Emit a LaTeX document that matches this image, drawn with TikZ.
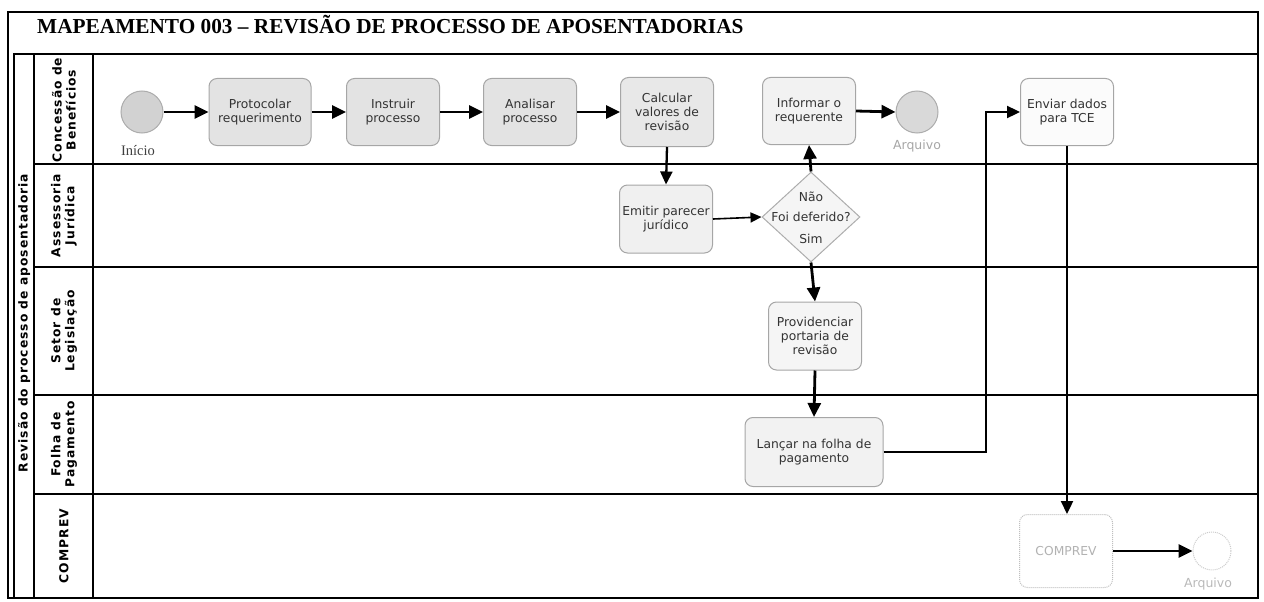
\documentclass[tikz,border=0pt]{standalone}
\usepackage{fontspec}
\setmainfont{Liberation Serif}
\newfontfamily\boxfont{DejaVu Sans}
\newfontfamily\lanefont[LetterSpace=8]{DejaVu Sans}
\usetikzlibrary{arrows.meta,shapes.geometric}
\begin{document}
\begin{tikzpicture}[x=1pt,y=-1pt,
  task/.style={rounded corners=8pt, draw=gray!70, line width=1pt, fill=gray!12,
    align=center, font=\boxfont\fontsize{12.3}{14}\selectfont, text=black!80,
    minimum width=93pt, minimum height=67pt, inner sep=2pt},
  ev/.style={circle, draw=gray!65, line width=1pt, fill=gray!35, minimum size=42pt, inner sep=0pt},
  lane/.style={rotate=90, align=center, font=\lanefont\bfseries\fontsize{12.3}{14}\selectfont},
  flow/.style={line width=2.8pt, -{Triangle[length=14pt,width=13pt]}},
  thinflow/.style={line width=1.6pt, -{Triangle[length=11pt,width=10pt]}},
  medflow/.style={line width=2.3pt, -{Triangle[length=13pt,width=12pt]}},
  evlabel/.style={font=\boxfont\fontsize{12.5}{14}\selectfont, text=gray!70},
  decl/.style={font=\boxfont\fontsize{12.3}{14}\selectfont, text=black!80},
  sep/.style={line width=1.6pt}
]
\useasboundingbox (0,0) rectangle (1264,602);
% frame
\draw[line width=1.4pt] (8,12) rectangle (1258,598);
\draw[line width=1.3pt] (14,54) rectangle (1258,598);
\draw[line width=1.2pt] (34,54) -- (34,598);
\draw[line width=1.2pt] (93,54) -- (93,598);
\foreach \yy in {164,267,395,494} \draw[sep] (34,\yy) -- (1258,\yy);
% title
\node[anchor=base west, font=\bfseries\fontsize{21.3}{24}\selectfont, inner sep=0pt] (title) at (37,34)
  {MAPEAMENTO 003 – REVISÃO DE PROCESSO DE APOSENTADORIAS};
% pool and lanes
\node[lane] (pool) at (24,323) {Revisão do processo de aposentadoria};
\node[lane] (l1) at (64,110) {Concessão de\\Benefícios};
\node[lane] (l2) at (64,215.5) {Assessoria\\Jurídica};
\node[lane] (l3) at (64,331) {Setor de\\Legislação};
\node[lane] (l4) at (64,444.5) {Folha de\\Pagamento};
\node[lane] (l5) at (64,546) {COMPREV};
% lane 1
\node[ev] (start) at (142,112) {};
\node[font=\fontsize{14.5}{16}\selectfont, text=black!75] (startl) at (138,151) {Início};
\node[task, minimum width=102pt, fill=gray!22] (prot) at (260,112) {Protocolar\\requerimento};
\node[task, fill=gray!22] (instr) at (393,112) {Instruir\\processo};
\node[task, fill=gray!22] (anal) at (530,112) {Analisar\\processo};
\node[task, fill=gray!18, minimum height=69pt] (calc) at (667,112) {Calcular\\valores de\\revisão};
\node[task, fill=gray!10] (info) at (809,111) {Informar o\\requerente};
\node[ev, fill=gray!30] (arq1) at (917,112) {};
\node[evlabel] (arq1l) at (917,146) {Arquivo};
\node[task, fill=gray!3] (env) at (1067,112) {Enviar dados\\para TCE};
% lane 2
\node[task, fill=gray!12, minimum height=68pt] (emit) at (666,219) {Emitir parecer\\jurídico};
\node[diamond, draw=gray!65, line width=1pt, fill=gray!8, minimum width=98pt, minimum height=90pt, inner sep=0pt] (dec) at (811,217) {};
\node[decl] (nao) at (811,197) {Não};
\node[decl] (decq) at (811,217) {Foi deferido?};
\node[decl] (sim) at (811,239) {Sim};
% lane 3
\node[task, fill=gray!8, minimum height=68pt] (prov) at (815,336) {Providenciar\\portaria de\\revisão};
% lane 4
\node[task, fill=gray!10, minimum width=138pt, minimum height=69pt] (lanc) at (814,452) {Lançar na folha de\\pagamento};
% lane 5
\node[task, fill=white, draw=gray!50, densely dotted, text=gray!60, minimum height=73pt] (comp) at (1066,551) {COMPREV};
\node[ev, fill=white, draw=gray!40, densely dotted, minimum size=38pt] (arq2) at (1212,551) {};
\node[evlabel, text=gray!55] (arq2l) at (1208,584) {Arquivo};
% connectors
\draw[flow] (start) -- (prot);
\draw[flow] (prot) -- (instr);
\draw[flow] (instr) -- (anal);
\draw[flow] (anal) -- (calc);
\draw[medflow] (calc.south) -- (emit.north);
\draw[thinflow] (emit.east) -- (dec.west);
\draw[flow] (dec.north) -- (info.south);
\draw[flow] (info.east) -- (arq1.west);
\draw[flow] (dec.south) -- (prov.north);
\draw[flow] (prov.south) -- (lanc.north);
\coordinate (j1) at (986,112);
\draw[medflow] (lanc.east) -| (j1) -- (env.west);
\draw[medflow] (env.south) -- (env.south |- comp.north);
\draw[flow] (comp.east) -- (arq2.west);
\end{tikzpicture}
\end{document}
